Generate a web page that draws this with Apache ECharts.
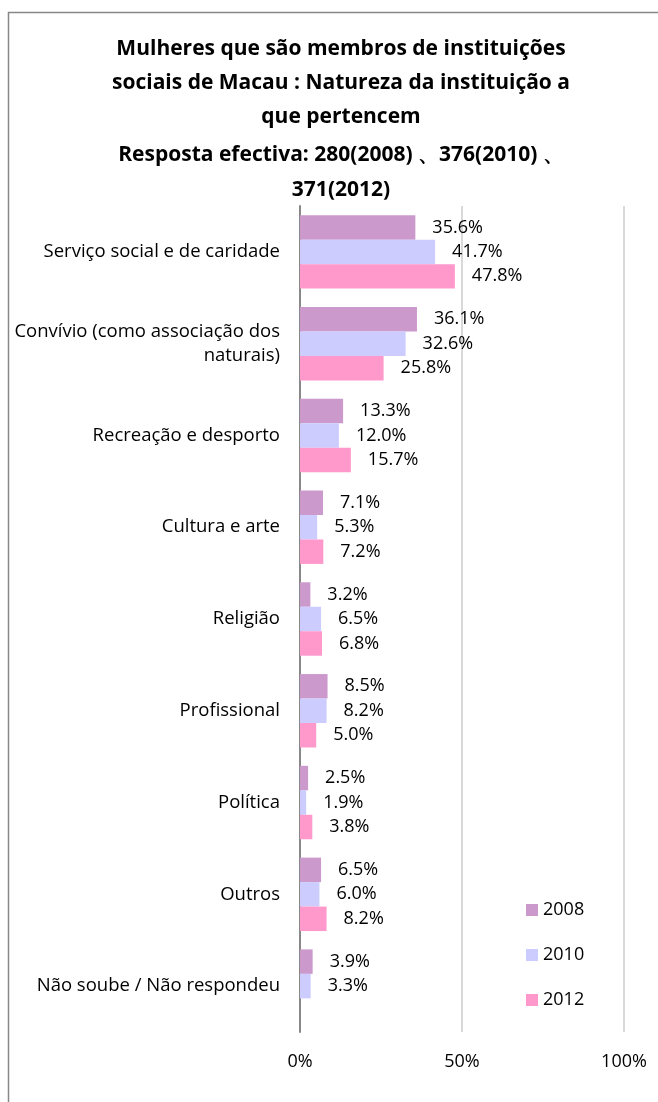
<!DOCTYPE html>
<html>
<head>
<meta charset="utf-8">
<script src="https://cdn.jsdelivr.net/npm/echarts@6/dist/echarts.min.js"></script>
<style>
  html, body { margin: 0; padding: 0; background: #fff; }
  #chart { width: 658px; height: 1102px; }
</style>
</head>
<body>
<div id="chart"></div>
<script>
// categories (top to bottom)
const categories = [
  'Serviço social e de caridade',
  'Convívio (como associação dos\nnaturais)',
  'Recreação e desporto',
  'Cultura e arte',
  'Religião',
  'Profissional',
  'Política',
  'Outros',
  'Não soube / Não respondeu'
];
const years = ['2008', '2010', '2012'];
const values2008 = [35.6, 36.1, 13.3, 7.1, 3.2, 8.5, 2.5, 6.5, 3.9];
const values2010 = [41.7, 32.6, 12.0, 5.3, 6.5, 8.2, 1.9, 6.0, 3.3];
const values2012 = [47.8, 25.8, 15.7, 7.2, 6.8, 5.0, 3.8, 8.2, null];
const colors = ['#CC99CC', '#CCCCFF', '#FF99CC'];

const font = '"Open Sans", sans-serif';

let myChart = echarts.init(document.getElementById('chart'));

function barSeries(name, data) {
  return {
    name: name,
    type: 'bar',
    data: data,
    barGap: 0,
    barCategoryGap: '20%',
    label: {
      show: true,
      position: 'right',
      distance: 17,
      color: '#000',
      fontFamily: font,
      fontSize: 18,
      formatter: p => p.value == null ? '' : p.value.toFixed(1) + '%'
    }
  };
}

myChart.setOption({
  animation: false,
  color: colors,
  graphic: [{
    type: 'rect',
    shape: { x: 8.5, y: 12.5, width: 700, height: 1200 },
    style: { fill: 'none', stroke: '#888', lineWidth: 1.5 }
  }],
  title: [{
    text: 'Mulheres que são membros de instituições\nsociais de Macau : Natureza da instituição a\nque pertencem',
    left: 336, top: 27, textAlign: 'center',
    textStyle: { fontFamily: font, fontWeight: 'bold', fontSize: 21, lineHeight: 34, color: '#000' }
  }, {
    text: 'Resposta efectiva: 280(2008) 、376(2010) 、\n371(2012)',
    left: 336, top: 133, textAlign: 'center',
    textStyle: { fontFamily: font, fontWeight: 'bold', fontSize: 21, lineHeight: 35, color: '#000' }
  }],
  legend: {
    orient: 'vertical',
    left: 521, top: 896,
    itemWidth: 12, itemHeight: 12,
    itemGap: 27,
    icon: 'rect',
    data: years,
    textStyle: { fontFamily: font, fontSize: 18, color: '#000' }
  },
  grid: { left: 300, right: 34, top: 206, bottom: 70, containLabel: false },
  xAxis: {
    type: 'value',
    min: 0, max: 100, interval: 50,
    axisLabel: { formatter: '{value}%', fontFamily: font, fontSize: 18, color: '#000', margin: 21 },
    splitLine: { lineStyle: { color: '#D9D9D9', width: 2 } },
    axisLine: { show: false },
    axisTick: { show: false }
  },
  yAxis: {
    type: 'category',
    inverse: true,
    data: categories,
    axisLine: { lineStyle: { color: '#888', width: 2 } },
    axisTick: { show: false },
    axisLabel: { fontFamily: font, fontSize: 18.5, color: '#000', margin: 20, align: 'right', lineHeight: 24 }
  },
  series: [
    barSeries(years[0], values2008),
    barSeries(years[1], values2010),
    barSeries(years[2], values2012)
  ]
});
</script>
</body>
</html>
